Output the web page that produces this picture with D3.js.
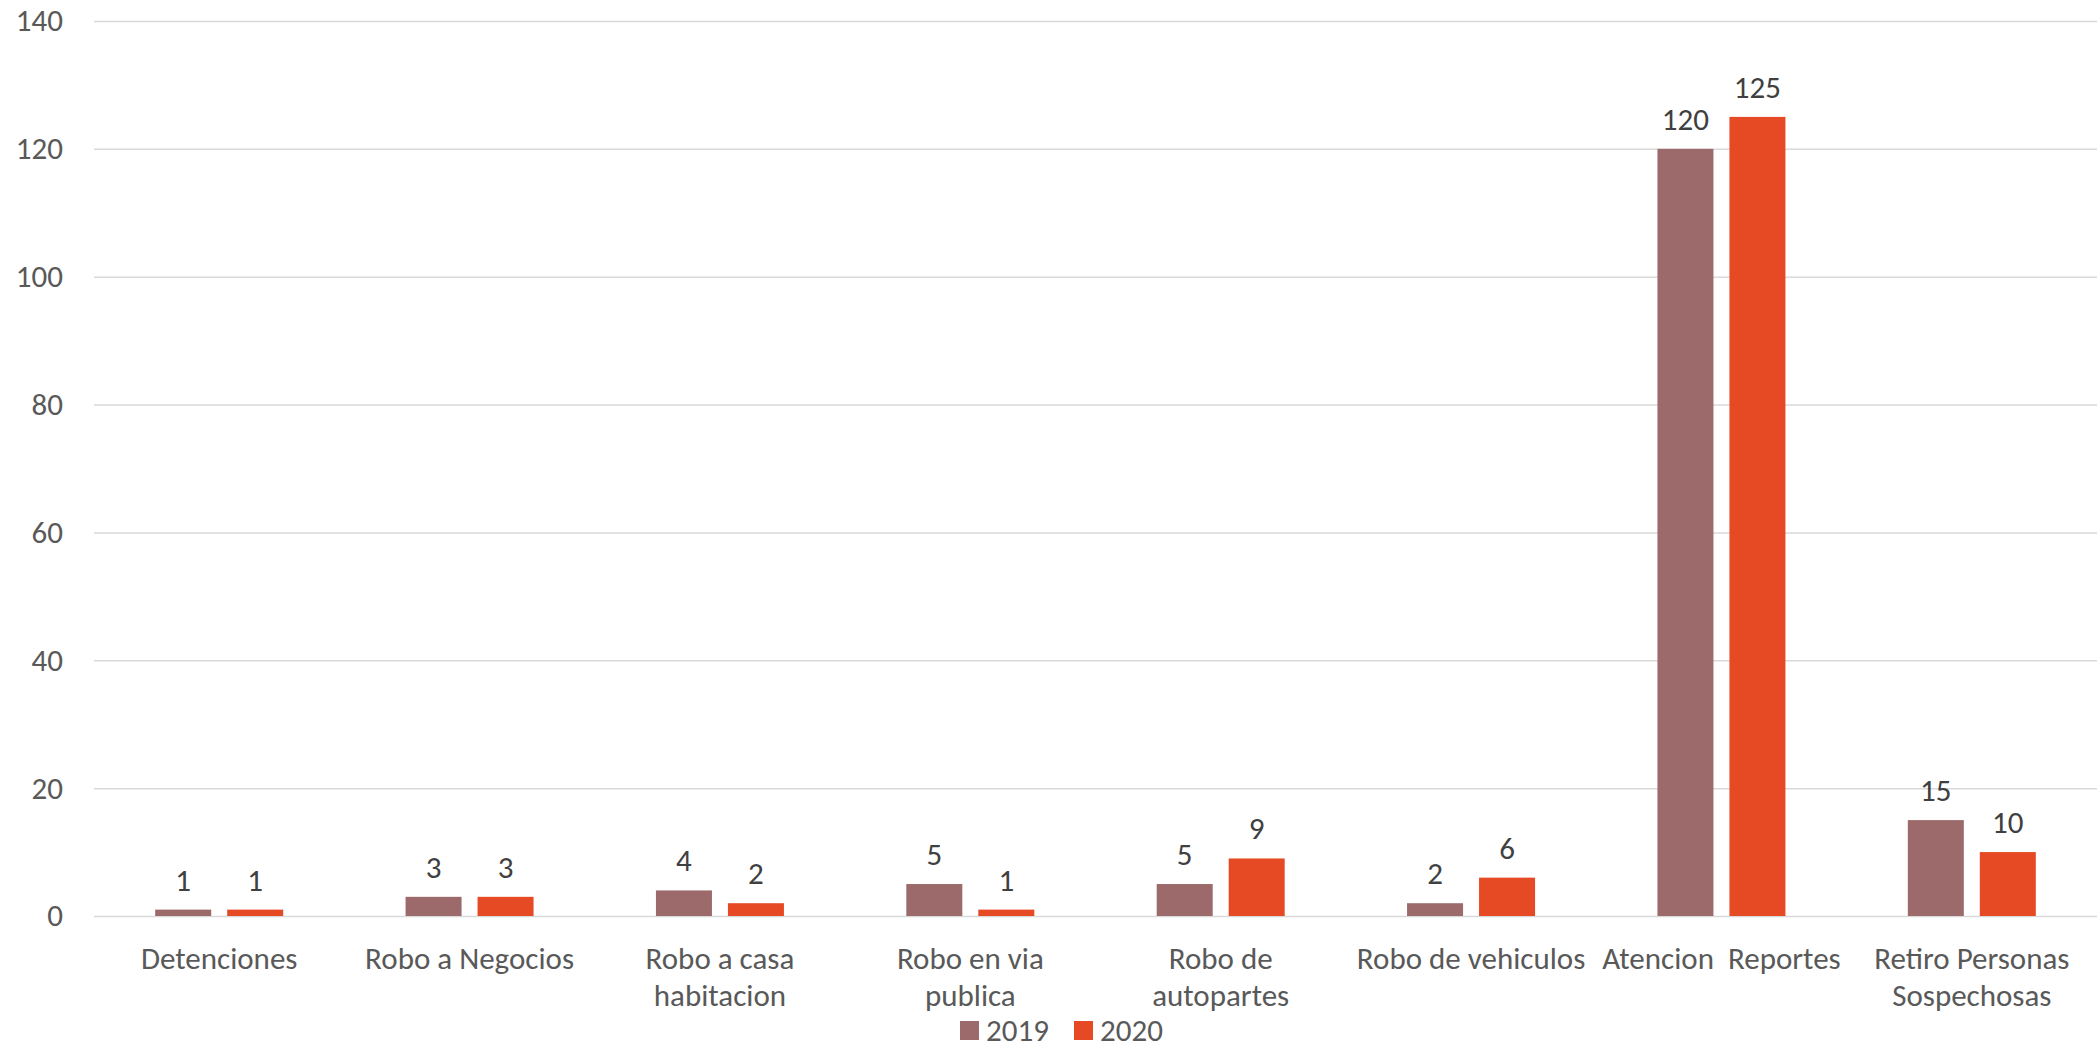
<!DOCTYPE html>
<html>
<head>
<meta charset="utf-8">
<script src="https://d3js.org/d3.v7.min.js"></script>
<style>
  body { margin: 0; background: #fff; }
  svg { display: block; }
</style>
</head>
<body>
<div id="chart"></div>
<script>
// data
const categories = ["Detenciones", "Robo a Negocios", "Robo a casa\nhabitacion", "Robo en via\npublica",
                    "Robo de\nautopartes", "Robo de vehiculos", "Atencion  Reportes", "Retiro Personas\nSospechosas"];
const seriesNames = ["2019", "2020"];
const values2019 = [1, 3, 4, 5, 5, 2, 120, 15];
const values2020 = [1, 3, 2, 1, 9, 6, 125, 10];
const yTicks = [0, 20, 40, 60, 80, 100, 120, 140];
const colors = ["#9c6a6a", "#e54a25"];

const width = 2097;
const height = 1050;
const margin = {top: 21, right: 0, bottom: 134, left: 94};
const font = "Carlito, Calibri, 'Open Sans', sans-serif";
const fontSize = "31px";

const svg = d3.select("#chart")
  .append("svg")
  .attr("width", width)
  .attr("height", height)
  .attr("font-family", font);

const rows = categories.map(function(c, i) {
  return {cat: c, vals: [values2019[i], values2020[i]]};
});

const x0 = d3.scaleBand()
  .domain(categories)
  .range([margin.left, width - margin.right])
  .paddingInner(0)
  .paddingOuter(0);

const groupW = 128;
const x1 = d3.scaleBand()
  .domain(seriesNames)
  .range([0, groupW])
  .paddingInner(0.222);

const y = d3.scaleLinear()
  .domain([0, 140])
  .range([height - margin.bottom, margin.top]);

// gridlines + y labels
const yAxis = svg.append("g")
  .attr("transform", "translate(" + margin.left + ",0)")
  .call(d3.axisLeft(y).tickValues(yTicks).tickSize(-(width - margin.left - margin.right)).tickPadding(31))
  .attr("font-family", font)
  .attr("font-size", fontSize);
yAxis.select(".domain").remove();
yAxis.selectAll(".tick line").attr("stroke", "#d9d9d9").attr("stroke-width", 1.5);
yAxis.selectAll(".tick text").attr("fill", "#595959");

// bars
const groups = svg.append("g")
  .selectAll("g")
  .data(rows)
  .join("g")
    .attr("transform", function(d) { return "translate(" + (x0(d.cat) + (x0.bandwidth() - groupW) / 2) + ",0)"; });

groups.selectAll("rect")
  .data(function(d) { return d.vals.map(function(v, i) { return {key: seriesNames[i], v: v, i: i}; }); })
  .join("rect")
    .attr("x", function(d) { return x1(d.key); })
    .attr("y", function(d) { return y(d.v); })
    .attr("width", x1.bandwidth())
    .attr("height", function(d) { return y(0) - y(d.v); })
    .attr("fill", function(d) { return colors[d.i]; });

// value labels
groups.selectAll("text")
  .data(function(d) { return d.vals.map(function(v, i) { return {key: seriesNames[i], v: v}; }); })
  .join("text")
    .attr("x", function(d) { return x1(d.key) + x1.bandwidth() / 2; })
    .attr("y", function(d) { return y(d.v) - 19; })
    .attr("text-anchor", "middle")
    .attr("fill", "#404040")
    .attr("font-size", fontSize)
    .text(function(d) { return d.v; });

// category labels
const xAxis = svg.append("g")
  .attr("transform", "translate(0," + y(0) + ")")
  .call(d3.axisBottom(x0).tickSize(0).tickFormat(""))
  .attr("font-family", font);
xAxis.select(".domain").remove();
xAxis.selectAll(".tick").each(function(d) {
  const t = d3.select(this).append("text")
    .attr("text-anchor", "middle")
    .attr("fill", "#595959")
    .attr("font-size", fontSize)
    .style("white-space", "pre");
  d.split("\n").forEach(function(line, k) {
    t.append("tspan")
      .attr("x", 0)
      .attr("y", 53 + k * 37)
      .text(line);
  });
});

// legend
const legend = svg.append("g")
  .attr("transform", "translate(960,1030)");
const legendItems = legend.selectAll("g")
  .data(seriesNames)
  .join("g")
    .attr("transform", function(d, i) { return "translate(" + (i * 114) + ",0)"; });
legendItems.append("rect")
  .attr("x", 0)
  .attr("y", -9)
  .attr("width", 19)
  .attr("height", 19)
  .attr("fill", function(d, i) { return colors[i]; });
legendItems.append("text")
  .attr("x", 26)
  .attr("y", 0)
  .attr("dy", "0.35em")
  .attr("fill", "#595959")
  .attr("font-size", fontSize)
  .text(function(d) { return d; });
</script>
</body>
</html>
